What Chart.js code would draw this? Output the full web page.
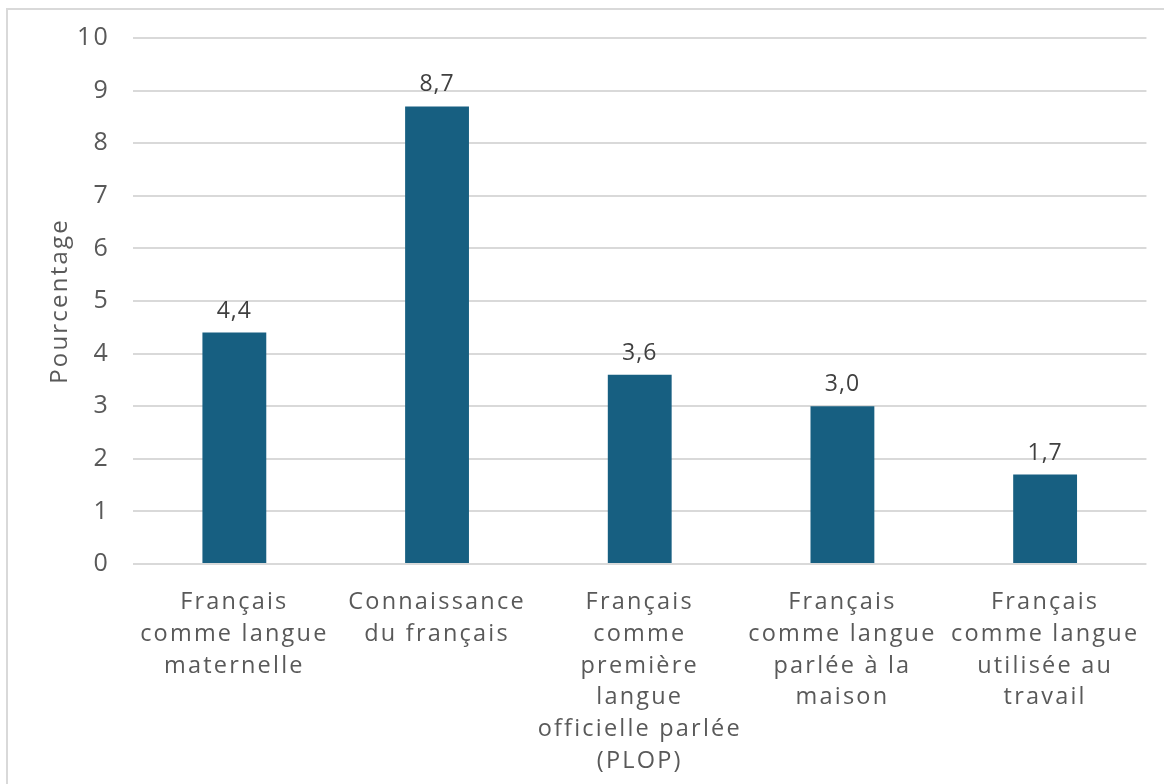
<!DOCTYPE html>
<html>
<head>
<meta charset="utf-8">
<script src="https://cdn.jsdelivr.net/npm/chart.js@4/dist/chart.umd.min.js"></script>
<style>
  html, body { margin: 0; padding: 0; background: #fff; overflow: hidden; }
  #wrap { position: absolute; left: 0; top: 0; width: 1164px; height: 784px; }
  #frame { position: absolute; left: 6px; top: 8px; width: 1170px; height: 800px;
           border: 2px solid #d9d9d9; pointer-events: none; }
</style>
</head>
<body>
<div id="wrap"><canvas id="chart" width="1164" height="784"></canvas></div>
<div id="frame"></div>
<script>
// Data
const categories = [
  ['Français', 'comme langue', 'maternelle'],
  ['Connaissance', 'du français'],
  ['Français', 'comme', 'première', 'langue', 'officielle parlée', '(PLOP)'],
  ['Français', 'comme langue', 'parlée à la', 'maison'],
  ['Français', 'comme langue', 'utilisée au', 'travail']
];
const values = [4.4, 8.7, 3.6, 3.0, 1.7];
const yTicks = [0, 1, 2, 3, 4, 5, 6, 7, 8, 9, 10];
const yTitle = 'Pourcentage';

const fontFamily = "'Open Sans', 'DejaVu Sans', sans-serif";
const spacing = '2.2px';

// wider letter spacing to get closer to the original's wide font
const wideText = {
  id: 'wideText',
  beforeUpdate(chart) { chart.ctx.letterSpacing = spacing; },
  beforeDraw(chart) { chart.ctx.letterSpacing = spacing; }
};

// Value labels above the bars (French decimal comma)
const valueLabels = {
  id: 'valueLabels',
  afterDatasetsDraw(chart) {
    const ctx = chart.ctx;
    const meta = chart.getDatasetMeta(0);
    ctx.save();
    ctx.letterSpacing = '1px';
    ctx.font = '23px ' + fontFamily;
    ctx.fillStyle = '#404040';
    ctx.textAlign = 'center';
    ctx.textBaseline = 'alphabetic';
    meta.data.forEach((bar, i) => {
      ctx.fillText(values[i].toFixed(1).replace('.', ','), bar.x, bar.y - 15);
    });
    ctx.restore();
  }
};

const ctx = document.getElementById('chart').getContext('2d');
new Chart(ctx, {
  type: 'bar',
  data: {
    labels: categories,
    datasets: [{
      data: values,
      backgroundColor: '#175f81',
      categoryPercentage: 1,
      barPercentage: 0.315
    }]
  },
  options: {
    responsive: false,
    animation: false,
    layout: { padding: { left: 0, right: 17, top: 38, bottom: 0 } },
    plugins: {
      legend: { display: false },
      tooltip: { enabled: false }
    },
    scales: {
      x: {
        grid: { display: false, drawTicks: false },
        border: { display: false },
        ticks: {
          color: '#595959',
          font: { family: fontFamily, size: 23.5, lineHeight: 1.345 },
          padding: 23,
          maxRotation: 0,
          autoSkip: false
        },
        afterFit(scale) { scale.height = 220; }
      },
      y: {
        min: 0,
        max: 10,
        afterBuildTicks(scale) { scale.ticks = yTicks.map(v => ({ value: v })); },
        grid: { color: '#d9d9d9', lineWidth: 2, drawTicks: false },
        border: { display: false },
        ticks: {
          color: '#595959',
          font: { family: fontFamily, size: 25 },
          padding: 23
        },
        title: {
          display: true,
          text: yTitle,
          color: '#595959',
          font: { family: fontFamily, size: 24, lineHeight: 1.2 },
          padding: { top: 46, bottom: 0 }
        },
        afterFit(scale) { scale.width = 133; }
      }
    }
  },
  plugins: [wideText, valueLabels]
});
</script>
</body>
</html>
